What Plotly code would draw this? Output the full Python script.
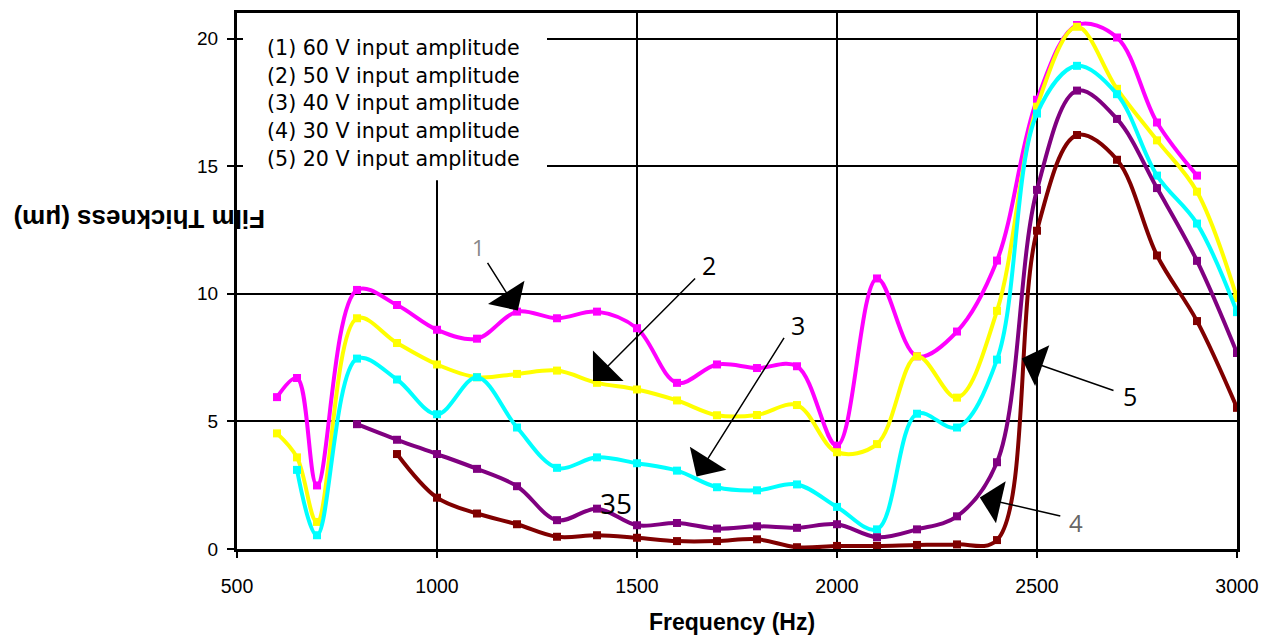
import plotly.graph_objects as go

# ---- data ----
freq_60 = [600, 650, 700, 800, 900, 1000, 1100, 1200, 1300, 1400, 1500, 1600, 1700, 1800,
           1900, 2000, 2100, 2200, 2300, 2400, 2500, 2600, 2700, 2800, 2900]
thk_60 = [5.95, 6.7, 2.49, 10.15, 9.56, 8.59, 8.24, 9.3, 9.04, 9.3, 8.65, 6.51, 7.23, 7.09,
          7.16, 4.05, 10.6, 7.55, 8.52, 11.3, 17.6, 20.53, 20.04, 16.71, 14.63]

freq_50 = [600, 650, 700, 800, 900, 1000, 1100, 1200, 1300, 1400, 1500, 1600, 1700, 1800,
           1900, 2000, 2100, 2200, 2300, 2400, 2500, 2600, 2700, 2800, 2900, 3000]
thk_50 = [4.53, 3.59, 1.06, 9.04, 8.07, 7.23, 6.73, 6.86, 6.99, 6.51, 6.25, 5.82, 5.24, 5.25,
          5.64, 3.79, 4.11, 7.55, 5.93, 9.33, 17.33, 20.46, 18.03, 16.01, 14.0, 9.83]

freq_40 = [650, 700, 800, 900, 1000, 1100, 1200, 1300, 1400, 1500, 1600, 1700, 1800,
           1900, 2000, 2100, 2200, 2300, 2400, 2500, 2600, 2700, 2800, 2900, 3000]
thk_40 = [3.1, 0.54, 7.46, 6.64, 5.28, 6.73, 4.76, 3.18, 3.59, 3.36, 3.07, 2.42, 2.3,
          2.53, 1.65, 0.77, 5.3, 4.76, 7.42, 17.06, 18.93, 17.82, 14.63, 12.75, 9.28]

freq_30 = [800, 900, 1000, 1100, 1200, 1300, 1400, 1500, 1600, 1700, 1800,
           1900, 2000, 2100, 2200, 2300, 2400, 2500, 2600, 2700, 2800, 2900, 3000]
thk_30 = [4.89, 4.28, 3.72, 3.14, 2.46, 1.13, 1.58, 0.93, 1.02, 0.8, 0.89,
          0.83, 0.97, 0.46, 0.77, 1.28, 3.4, 14.07, 17.96, 16.85, 14.14, 11.29, 7.68]

freq_20 = [900, 1000, 1100, 1200, 1300, 1400, 1500, 1600, 1700, 1800,
           1900, 2000, 2100, 2200, 2300, 2400, 2500, 2600, 2700, 2800, 2900, 3000]
thk_20 = [3.72, 2.01, 1.39, 0.97, 0.48, 0.54, 0.44, 0.31, 0.31, 0.38,
          0.07, 0.12, 0.12, 0.16, 0.18, 0.35, 12.47, 16.22, 15.25, 11.5, 8.93, 5.53]

legend_lines = ["(1) 60 V input amplitude", "(2) 50 V input amplitude",
                "(3) 40 V input amplitude", "(4) 30 V input amplitude",
                "(5) 20 V input amplitude"]
x_ticks = [500, 1000, 1500, 2000, 2500, 3000]
y_ticks = [0, 5, 10, 15, 20]

series = [
    (freq_60, thk_60, "#FF00FF", "60 V"),
    (freq_50, thk_50, "#FFFF00", "50 V"),
    (freq_40, thk_40, "#00FFFF", "40 V"),
    (freq_30, thk_30, "#800080", "30 V"),
    (freq_20, thk_20, "#800000", "20 V"),
]

fig = go.Figure()
for fx, fy, col, name in series:
    fig.add_trace(go.Scatter(
        x=fx, y=fy, name=name, mode="lines+markers",
        line=dict(color=col, width=4, shape="spline", smoothing=1.0),
        marker=dict(symbol="square", size=8, color=col),
        showlegend=False,
    ))

# white box behind legend text (hides gridlines)
fig.add_shape(type="rect", xref="x", yref="y", x0=515, x1=1275, y0=14.45, y1=21,
              fillcolor="white", line=dict(width=0), layer="between")

leg_y = [19.61, 18.53, 17.47, 16.38, 15.29]
for txt, yy in zip(legend_lines, leg_y):
    fig.add_annotation(x=570, y=yy, xref="x", yref="y", text=txt, showarrow=False,
                       xanchor="left", yanchor="middle",
                       font=dict(family="DejaVu Sans", size=20.6, color="black"))

# arrows (head at x,y ; tail at ax,ay)
arrows = [
    (1202, 9.34, 1124, 11.27),
    (1390, 6.58, 1649, 10.66),
    (1649, 2.84, 1870, 8.33),
    (2357, 2.02, 2562, 1.28),
    (2462, 7.46, 2695, 6.19),
]
for hx, hy, tx, ty in arrows:
    fig.add_annotation(x=hx, y=hy, ax=tx, ay=ty, xref="x", yref="y", axref="x", ayref="y",
                       text="", showarrow=True, arrowhead=1, arrowsize=4.8, arrowwidth=1.5,
                       arrowcolor="black")

labels = [
    ("1", 1103, 11.83, "#888888", 22),
    ("2", 1681, 11.12, "black", 25),
    ("3", 1902, 8.79, "black", 25),
    ("4", 2597, 1.05, "#666666", 24),
    ("5", 2732, 5.99, "black", 25),
    ("35", 1447, 1.79, "black", 28),
]
for t, lx, ly, col, sz in labels:
    fig.add_annotation(x=lx, y=ly, xref="x", yref="y", text=t, showarrow=False,
                       xanchor="center", yanchor="middle",
                       font=dict(family="Open Sans", size=sz, color=col))

# axis titles
fig.add_annotation(x=-0.097, y=0.616, xref="paper", yref="paper",
                   text="<b>Film Thickness (μm)</b>", textangle=180, showarrow=False,
                   xanchor="center", yanchor="middle",
                   font=dict(family="Liberation Sans, Arial", size=26, color="black"))
fig.add_annotation(x=0.495, y=-0.1354, xref="paper", yref="paper",
                   text="<b>Frequency (Hz)</b>", showarrow=False,
                   xanchor="center", yanchor="middle",
                   font=dict(family="Liberation Sans, Arial", size=23, color="black"))

fig.update_xaxes(range=[500, 3000], tickvals=x_ticks, ticktext=[str(v) for v in x_ticks],
                 showgrid=True, gridcolor="black", gridwidth=1.5,
                 showline=True, linecolor="black", linewidth=3, mirror=True,
                 ticks="outside", ticklen=6, tickcolor="black", tickwidth=1.5,
                 ticklabelstandoff=12,
                 tickfont=dict(family="Liberation Sans, Arial", size=19.5, color="black"),
                 zeroline=False)
fig.update_yaxes(range=[0, 21], tickvals=y_ticks, ticktext=[str(v) for v in y_ticks],
                 showgrid=True, gridcolor="black", gridwidth=1.5,
                 showline=True, linecolor="black", linewidth=3, mirror=True,
                 ticks="outside", ticklen=7, tickcolor="black", tickwidth=1.5,
                 ticklabelstandoff=5,
                 tickfont=dict(family="Liberation Sans, Arial", size=19, color="black"),
                 zeroline=False)

fig.update_layout(
    width=1263, height=630,
    margin=dict(l=229, r=34, t=2, b=89),
    paper_bgcolor="white", plot_bgcolor="white",
    showlegend=False,
)

fig.write_html("out.html")
